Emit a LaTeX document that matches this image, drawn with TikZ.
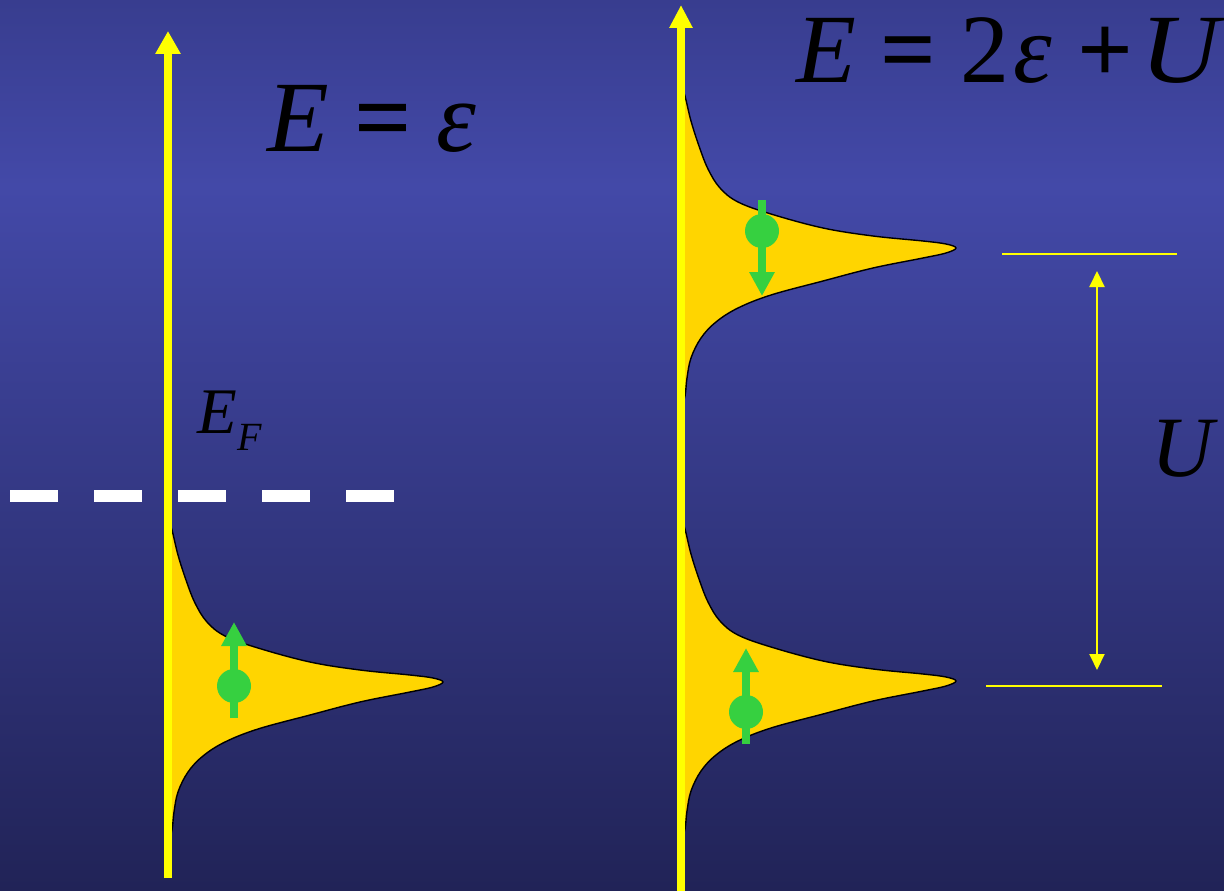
\documentclass[tikz,border=0pt]{standalone}
\usepackage{fontspec}
\usepackage{graphicx}
\setmainfont{Liberation Serif}
\usetikzlibrary{arrows.meta}
\definecolor{bgtop}{HTML}{383D8F}
\definecolor{bgmid}{HTML}{4349A8}
\definecolor{bgbot}{HTML}{212357}
\definecolor{axisyellow}{HTML}{FFFF00}
\definecolor{dosgold}{HTML}{FFD500}
\definecolor{spingreen}{HTML}{36D040}
\tikzset{
  axisline/.style={axisyellow, line width=8pt, -{Triangle[length=23pt,width=24pt]}},
  levelline/.style={axisyellow, line width=2pt},
  gaparrow/.style={axisyellow, line width=2pt, {Triangle[length=16pt,width=15pt]}-{Triangle[length=16pt,width=15pt]}},
  fermi/.style={white, line width=12pt, dash pattern=on 48pt off 36pt},
  spinarrow/.style={spingreen, line width=8pt, -{Triangle[length=24pt,width=24pt]}},
  electron/.style={circle, fill=spingreen, minimum size=34pt, inner sep=0pt},
  eqtext/.style={anchor=base west, inner sep=0pt, text=black},
  dospeak/.pic={
    \filldraw[fill=dosgold, draw=black, line width=1.4pt, line join=round]
      plot[smooth, tension=0.6] coordinates {
        (-4,-164) (0,-152) (6,-127) (14,-102) (23,-79) (35,-60) (53,-46) (86,-34)
        (138,-20) (188,-12) (238,-7) (261,-4) (271,0) (261,5) (238,10) (188,20)
        (138,33) (86,47) (53,60) (31,74) (16,90) (6,110) (2,130) (0,148) (-4,160)}
      -- cycle;
  }
}
\begin{document}
\begin{tikzpicture}[x=1pt, y=-1pt]
  \useasboundingbox (0,0) rectangle (1224,891);
  % background
  \shade[top color=bgtop, bottom color=bgmid] (0,0) rectangle (1224,186);
  \shade[top color=bgmid, bottom color=bgbot] (0,185) rectangle (1224,891);

  % density of states peaks
  \pic at (172,682) {dospeak};
  \pic at (685,681) {dospeak};
  \pic at (685,248) {dospeak};

  % axes
  \coordinate (axLbot) at (168,878);
  \coordinate (axLtop) at (168,31);
  \coordinate (axRbot) at (681,891);
  \coordinate (axRtop) at (681,5);
  \draw[axisline] (axLbot) -- (axLtop);
  \draw[axisline, -{Triangle[length=23pt,width=22pt]}] (axRbot) -- (axRtop);

  % Fermi level
  \coordinate (fL) at (10,496);
  \coordinate (fR) at (394,496);
  \draw[fermi] (fL) -- (fR);

  % electrons with spins
  \coordinate (sLa) at (234,718);
  \coordinate (sLb) at (234,622);
  \draw[spinarrow] (sLa) -- (sLb);
  \node[electron] (eL) at (234,686) {};

  \coordinate (sUa) at (762,200);
  \coordinate (sUb) at (762,296);
  \draw[spinarrow] (sUa) -- (sUb);
  \node[electron] (eU) at (762,231) {};

  \coordinate (sDa) at (746,744);
  \coordinate (sDb) at (746,648);
  \draw[spinarrow] (sDa) -- (sDb);
  \node[electron] (eD) at (746,712) {};

  % level lines and U gap
  \coordinate (lvUa) at (1002,254);
  \coordinate (lvUb) at (1177,254);
  \coordinate (lvDa) at (986,686);
  \coordinate (lvDb) at (1162,686);
  \draw[levelline] (lvUa) -- (lvUb);
  \draw[levelline] (lvDa) -- (lvDb);
  \coordinate (gapTop) at (1097,271);
  \coordinate (gapBot) at (1097,670);
  \draw[gaparrow] (gapBot) -- (gapTop);

  % labels
  \node[eqtext] (eq1) at (267,151)
    {\fontsize{101}{101}\selectfont\itshape E\upshape\ {\bfseries =}\ \itshape ε};
  \node[eqtext] (eq2) at (796,83)
    {\fontsize{98}{98}\selectfont\itshape E\upshape\ {\bfseries =}\ 2\kern4pt\itshape ε\upshape\ {\bfseries +}\kern8pt\scalebox{1.12}[1]{\itshape U}};
  \node[eqtext] (EF) at (197,433)
    {\fontsize{65}{65}\selectfont\itshape E\kern1pt\raisebox{-17pt}{\fontsize{40}{40}\selectfont F}};
  \node[eqtext] (Ulab) at (1151,476)
    {\fontsize{86}{86}\selectfont\itshape U};
\end{tikzpicture}
\end{document}
